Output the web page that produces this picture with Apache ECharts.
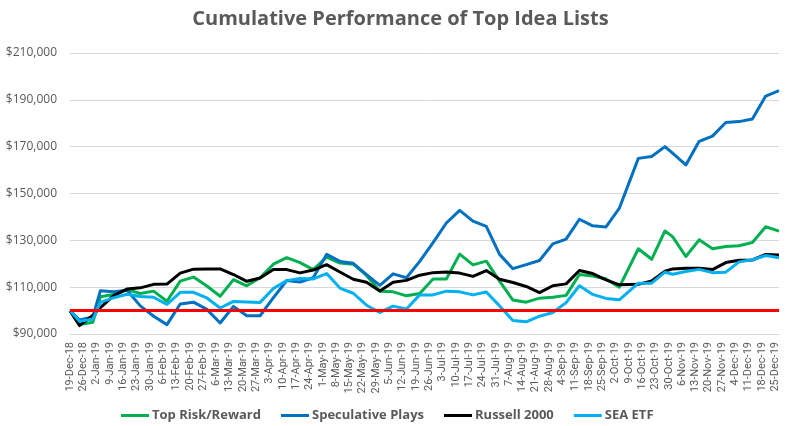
<!DOCTYPE html>
<html>
<head>
<meta charset="utf-8">
<script src="https://cdn.jsdelivr.net/npm/echarts@6/dist/echarts.min.js"></script>
<style>
html,body{margin:0;padding:0;background:#fff;}
#chart{width:801px;height:426px;}
</style>
</head>
<body>
<div id="chart"></div>
<script>
// ---- data ----
const startDate = '2018-12-19';
const tickLabels = ['19-Dec-18','26-Dec-18','2-Jan-19','9-Jan-19','16-Jan-19','23-Jan-19','30-Jan-19','6-Feb-19','13-Feb-19','20-Feb-19','27-Feb-19','6-Mar-19','13-Mar-19','20-Mar-19','27-Mar-19','3-Apr-19','10-Apr-19','17-Apr-19','24-Apr-19','1-May-19','8-May-19','15-May-19','22-May-19','29-May-19','5-Jun-19','12-Jun-19','19-Jun-19','26-Jun-19','3-Jul-19','10-Jul-19','17-Jul-19','24-Jul-19','31-Jul-19','7-Aug-19','14-Aug-19','21-Aug-19','28-Aug-19','4-Sep-19','11-Sep-19','18-Sep-19','25-Sep-19','2-Oct-19','9-Oct-19','16-Oct-19','23-Oct-19','30-Oct-19','6-Nov-19','13-Nov-19','20-Nov-19','27-Nov-19','4-Dec-19','11-Dec-19','18-Dec-19','25-Dec-19'];
const endDate = '2019-12-27';

const pointDates = ['2018-12-19','2018-12-24','2018-12-31','2019-01-04','2019-01-11','2019-01-18','2019-01-25','2019-02-01','2019-02-08','2019-02-15','2019-02-22','2019-03-01','2019-03-08','2019-03-15','2019-03-22','2019-03-29','2019-04-05','2019-04-12','2019-04-19','2019-04-26','2019-05-03','2019-05-10','2019-05-17','2019-05-24','2019-05-31','2019-06-07','2019-06-14','2019-06-21','2019-06-28','2019-07-05','2019-07-12','2019-07-19','2019-07-26','2019-08-02','2019-08-09','2019-08-16','2019-08-23','2019-08-30','2019-09-06','2019-09-13','2019-09-20','2019-09-27','2019-10-04','2019-10-14','2019-10-21','2019-10-28','2019-11-01','2019-11-08','2019-11-15','2019-11-22','2019-11-29','2019-12-06','2019-12-13','2019-12-20','2019-12-27'];

const topRiskReward = [100000,94000,95000,105900,106900,109000,107300,108300,104000,112600,114300,110500,106100,113200,110600,114000,119800,122600,120500,117500,122800,120300,119800,115000,108300,108000,106300,107300,113500,113500,124100,119500,121100,112600,104500,103600,105300,105700,106500,115400,114800,113500,110000,126400,121900,134000,131600,123100,130200,126400,127400,127700,129100,135800,133900];
const speculativePlays = [100000,96000,97300,108500,108000,108700,102000,97600,94000,102800,103600,100500,94700,101800,97800,97800,105500,112800,112200,114000,124000,121000,120200,115400,110800,115700,114000,121000,129000,137400,142800,138200,136000,124000,117900,119600,121400,128500,130500,139000,136200,135700,143700,165000,165800,170000,167200,162200,172300,174500,180300,180700,181800,191600,193900];
const russell2000 = [100000,93600,97900,101300,106400,109200,109700,111200,111300,116000,117700,117800,117800,115400,112500,113900,117500,117500,116100,117300,119600,116500,113400,112100,108400,112100,112900,115100,116200,116500,116000,114600,117100,113400,112000,110300,107700,110600,111400,117100,115800,113100,111000,111200,112600,116800,117800,118100,118100,117500,120500,121500,121600,124000,123700];
const seaEtf = [100000,95400,96400,103500,105500,107000,106000,105700,102600,107800,107800,105400,101100,103900,103700,103500,109400,112800,113700,113500,115800,109600,107400,102300,99200,101900,100700,106700,106700,108300,108000,106700,107900,102000,95800,95200,97600,99200,103400,110600,106900,105200,104600,111700,111700,116400,115500,116700,117600,116200,116400,120800,121700,123500,122600];
const baseline = 100000;

const seriesNames = ['Top Risk/Reward','Speculative Plays','Russell 2000','SEA ETF'];
const seriesColors = ['#00B050','#0070C0','#000000','#00B0F0'];

// ---- helpers ----
function dayOffset(s){
  const p = s.split('-').map(Number), b = startDate.split('-').map(Number);
  return Math.round((Date.UTC(p[0],p[1]-1,p[2]) - Date.UTC(b[0],b[1]-1,b[2])) / 86400000);
}
const xs = pointDates.map(dayOffset);
const xMax = dayOffset(endDate);
function pairs(arr){ return arr.map((v,i)=>[xs[i], v]); }

const allData = [topRiskReward, speculativePlays, russell2000, seaEtf];
const series = allData.map((d,i)=>({
  name: seriesNames[i],
  type: 'line',
  data: pairs(d),
  showSymbol: false,
  symbol: 'none',
  lineStyle: {width: 3, color: seriesColors[i], join: 'round'},
  itemStyle: {color: seriesColors[i]},
  z: 2 + i
}));
series.push({
  name: 'base',
  type: 'line',
  data: [[0, baseline],[xMax, baseline]],
  symbol: 'none',
  lineStyle: {width: 3, color: '#FF0000'},
  itemStyle: {color: '#FF0000'},
  z: 10,
  silent: true
});

const chart = echarts.init(document.getElementById('chart'), null, {renderer: 'canvas'});
chart.setOption({
  animation: false,
  backgroundColor: '#ffffff',
  title: {
    text: 'Cumulative Performance of Top Idea Lists',
    left: 'center',
    top: 4,
    textStyle: {fontFamily: 'Open Sans', fontSize: 20, fontWeight: 'bold', color: '#595959'}
  },
  legend: {
    data: seriesNames,
    left: 116,
    top: 404,
    icon: 'rect',
    itemWidth: 28,
    itemHeight: 3,
    itemGap: 20,
    textStyle: {fontFamily: 'Open Sans', fontSize: 13, fontWeight: 'bold', color: '#595959', padding: [0,0,0,-2]}
  },
  grid: {left: 70, right: 22, top: 53, bottom: 92, containLabel: false},
  xAxis: {
    type: 'value',
    min: 0,
    max: xMax,
    interval: 7,
    axisLine: {show: true, lineStyle: {color: '#d9d9d9', width: 1}},
    axisTick: {show: false},
    splitLine: {show: false},
    axisLabel: {
      rotate: 90,
      margin: 8,
      showMaxLabel: false,
      color: '#595959',
      fontFamily: 'Roboto',
      fontSize: 11,
      formatter: function(v){
        if (v % 7 !== 0) return '';
        const k = v / 7;
        return tickLabels[k] || '';
      }
    }
  },
  yAxis: {
    type: 'value',
    min: 90000,
    max: 210000,
    interval: 20000,
    axisLine: {show: false},
    axisTick: {show: false},
    splitLine: {lineStyle: {color: '#d9d9d9', width: 1}},
    axisLabel: {
      margin: 13,
      color: '#595959',
      fontFamily: 'Open Sans',
      fontSize: 12,
      formatter: function(v){ return '$' + v.toLocaleString('en-US'); }
    }
  },
  series: series
});
</script>
</body>
</html>
